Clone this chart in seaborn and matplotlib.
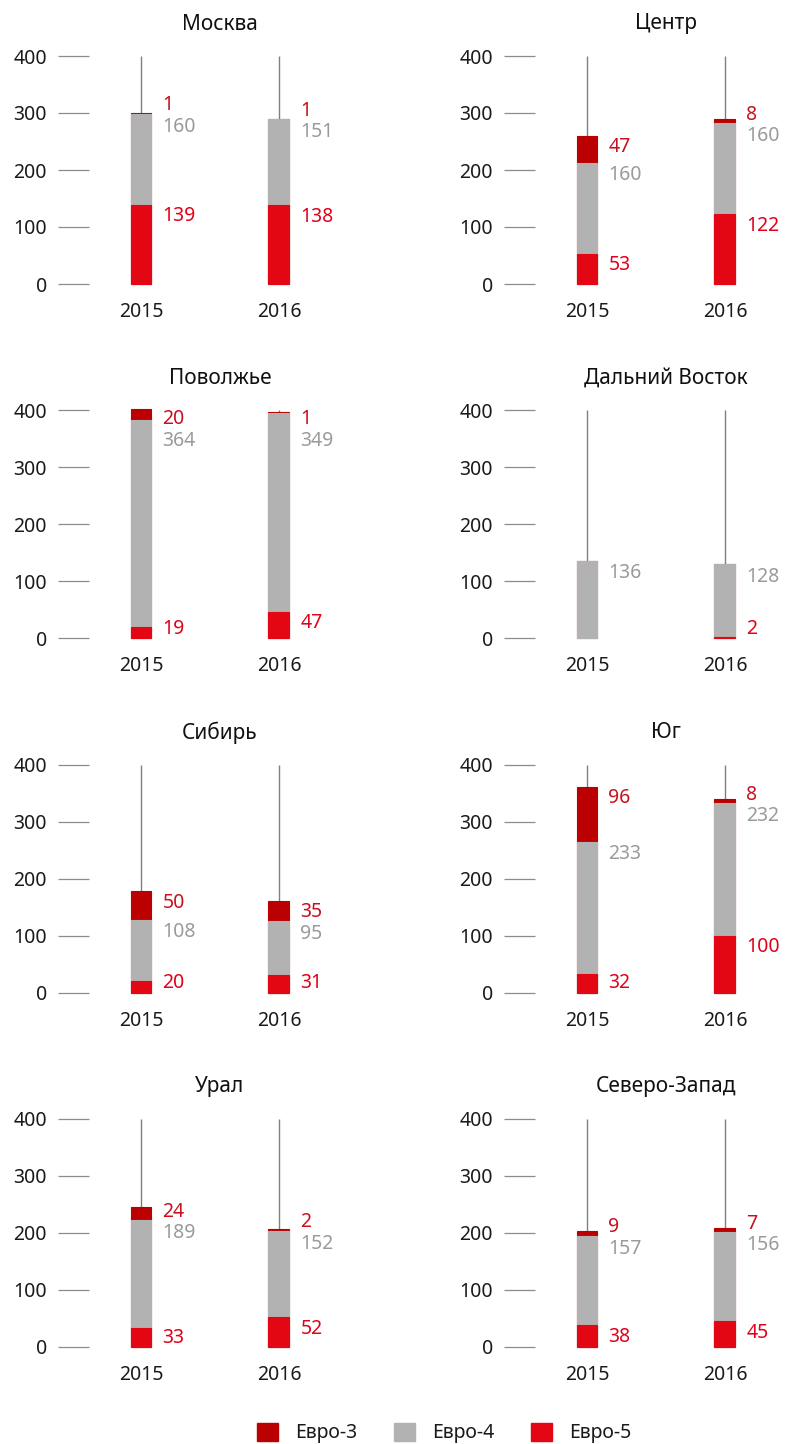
import pandas as pd
import matplotlib.pyplot as plt
from matplotlib.patches import Patch
import seaborn as sns

# data
regions = ['Москва', 'Центр', 'Поволжье', 'Дальний Восток',
           'Сибирь', 'Юг', 'Урал', 'Северо-Запад']
years = ['2015', '2016']
euro3 = [[1, 1], [47, 8], [20, 1], [0, 0], [50, 35], [96, 8], [24, 2], [9, 7]]
euro4 = [[160, 151], [160, 160], [364, 349], [136, 128],
         [108, 95], [233, 232], [189, 152], [157, 156]]
euro5 = [[139, 138], [53, 122], [19, 47], [0, 2],
         [20, 31], [32, 100], [33, 52], [38, 45]]
legend_labels = ['Евро-3', 'Евро-4', 'Евро-5']

# colours
c3 = '#BA0000'
c4 = '#B2B2B2'
c5 = '#E30613'
txt3 = '#C8101E'
txt4 = '#9A9A9A'
txt5 = '#E2001A'
grey_line = '#808080'
dark = '#1A1A1A'
fs = 14

sns.set_style('white')
plt.rcParams['font.family'] = ['Noto Sans', 'DejaVu Sans']

W, H = 788, 1444
fig = plt.figure(figsize=(W / 100, H / 100), dpi=100)

for i, region in enumerate(regions):
    row, col = divmod(i, 2)
    left = 89 + 446 * col
    base = 284 + 354.3 * row
    ax = fig.add_axes([left / W, 1 - base / H, 241 / W, 228 / H])

    df = pd.DataFrame({'year': years, 'e3': euro3[i], 'e4': euro4[i], 'e5': euro5[i]})
    df['top4'] = df['e5'] + df['e4']
    df['total'] = df['top4'] + df['e3']

    # stacked bars drawn as overlapping cumulative bars
    for col_name, color in [('total', c3), ('top4', c4), ('e5', c5)]:
        sub = df[df[col_name] > 0]
        sns.barplot(data=sub, x='year', y=col_name, color=color, width=0.152,
                    saturation=1, ax=ax, order=years, linewidth=0.8,
                    edgecolor=color)
    for p in ax.patches:
        p.set_clip_on(False)

    xs = list(range(len(years)))
    ax.vlines(xs, df['total'], 400, color=grey_line, lw=1, zorder=0.5)

    # value labels
    for x, r in zip(xs, df.itertuples()):
        tx = x + 0.155
        y5 = max(r.e5 - 20, 16)
        y3 = min(max(r.total - 20, r.top4 + 15), 385)
        y4 = r.top4 - 22
        if r.e3 > 0:
            y4 = min(y4, y3 - 38)
            ax.text(tx, y3, str(r.e3), color=txt3, fontsize=fs, va='center', ha='left')
        if r.e4 > 0:
            ax.text(tx, y4, str(r.e4), color=txt4, fontsize=fs, va='center', ha='left')
        if r.e5 > 0:
            ax.text(tx, y5, str(r.e5), color=txt5, fontsize=fs, va='center', ha='left')

    ax.set_xlim(-0.377, 1.37)
    ax.set_ylim(0, 400)
    ax.set_yticks(range(0, 401, 100))
    ax.set_xlabel('')
    ax.set_ylabel('')
    sns.despine(ax=ax, left=True, bottom=True)
    ax.tick_params(axis='y', left=True, length=22.3, width=0.9, color='#8C8C8C',
                   pad=8, labelsize=fs, labelcolor=dark)
    ax.tick_params(axis='x', bottom=False, length=0, pad=13, labelsize=fs,
                   labelcolor=dark)

    fig.text((left + 131) / W, 1 - (base - 228 - 32) / H, region,
             ha='center', va='center', fontsize=15, color='#111111')

handles = [Patch(color=c, label=l) for c, l in zip([c3, c4, c5], legend_labels)]
leg = fig.legend(handles=handles, loc='center', bbox_to_anchor=(444 / W, 1 - 1433 / H),
                 ncol=3, frameon=False, fontsize=fs, handlelength=1.1,
                 handleheight=1.1, handletextpad=0.85, columnspacing=1.9)
for t in leg.get_texts():
    t.set_color(dark)

fig.savefig('out.png', dpi=100)
